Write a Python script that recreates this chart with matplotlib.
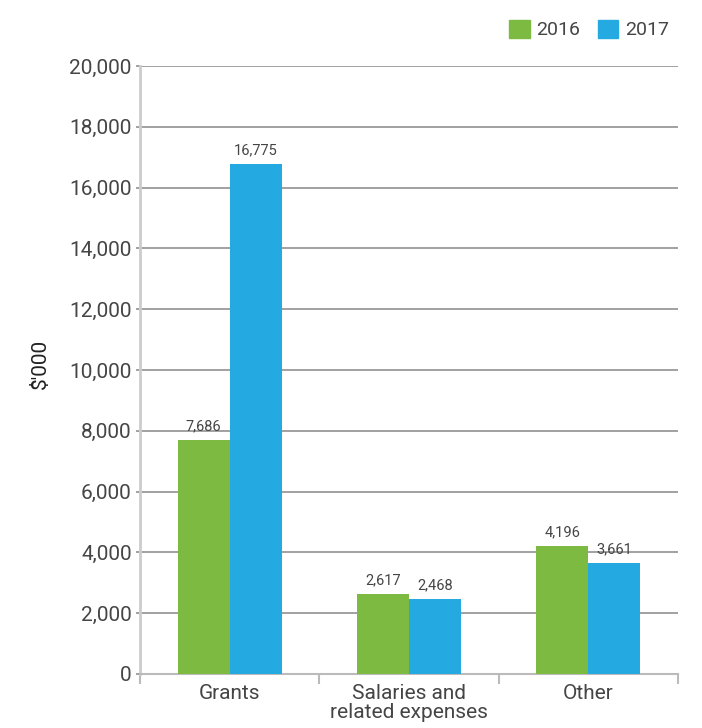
import matplotlib.pyplot as plt
import numpy as np
from matplotlib.patches import Patch

plt.rcParams['font.family'] = ['Roboto', 'DejaVu Sans']

# Expenses by category, $'000
categories = ['Grants', 'Salaries and\nrelated expenses', 'Other']
years = ['2016', '2017']
values_2016 = [7686, 2617, 4196]
values_2017 = [16775, 2468, 3661]

green = '#7cba42'
blue = '#24a9e1'
text_col = '#454545'

fig = plt.figure(figsize=(7.02, 7.28), dpi=100)
ax = fig.add_axes([0.1994, 0.0742, 0.7664, 0.8351])

x = np.arange(len(categories))
w = 0.29
b1 = ax.bar(x - w / 2, values_2016, w, color=green, zorder=3)
b2 = ax.bar(x + w / 2, values_2017, w, color=blue, zorder=3)

for bars, vals in ((b1, values_2016), (b2, values_2017)):
    for bar, v in zip(bars, vals):
        ax.text(bar.get_x() + bar.get_width() / 2, v + 220, f'{v:,}',
                ha='center', va='bottom', fontsize=10.5, color=text_col)

ax.set_xlim(-0.5, 2.5)
ax.set_ylim(0, 20000)
ax.set_yticks(np.arange(0, 20001, 2000))
ax.set_yticklabels([f'{t:,}' for t in range(0, 20001, 2000)])
ax.yaxis.grid(True, color='#9a9a9a', linewidth=1.3, zorder=0)
ax.tick_params(axis='y', length=3, color='#9a9a9a', width=1.3,
               labelsize=15, labelcolor=text_col, pad=3)

# category separators on the x axis
ax.set_xticks([-0.5, 0.5, 1.5, 2.5])
ax.set_xticklabels([])
ax.set_xticks(x, minor=True)
ax.set_xticklabels(categories, minor=True, fontsize=15, color=text_col,
                   linespacing=1.0)
ax.tick_params(axis='x', which='major', length=7, color='#bbbbbb', width=1.5)
ax.tick_params(axis='x', which='minor', length=0, pad=7)

for s in ['top', 'right']:
    ax.spines[s].set_visible(False)
ax.spines['left'].set_color('#cccccc')
ax.spines['left'].set_linewidth(2)
ax.spines['bottom'].set_color('#bbbbbb')
ax.spines['bottom'].set_linewidth(1.5)

fig.text(0.057, 0.5, "$'000", rotation=90, ha='center', va='center',
         fontsize=15, color='#222222')

handles = [Patch(color=green), Patch(color=blue)]
fig.legend(handles, years, loc='upper right', bbox_to_anchor=(0.978, 0.997),
           ncol=2, frameon=False, fontsize=14, handlelength=1.05,
           handleheight=1.05, handletextpad=0.35, columnspacing=0.9,
           labelcolor=text_col)

fig.savefig('out.png', dpi=100)
